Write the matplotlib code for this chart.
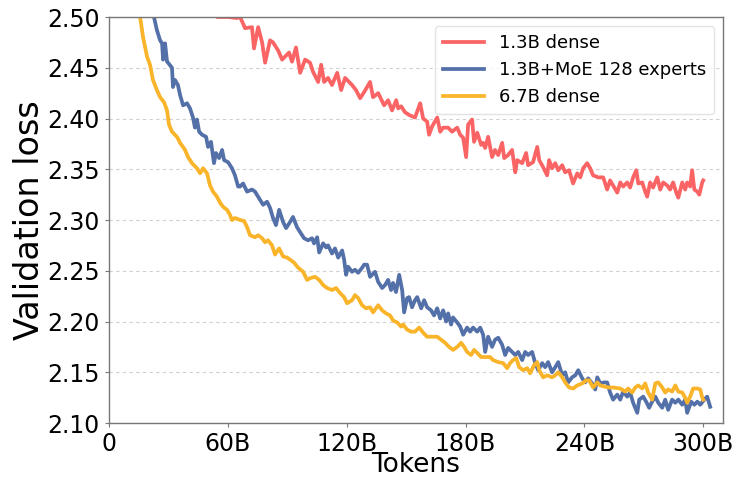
import matplotlib
matplotlib.use("Agg")
import matplotlib.pyplot as plt

# ---- data (tokens in billions, validation loss) ----
red_x = [55.1, 60.1, 64.6, 66.2, 68.7, 72.2, 73.2, 75.3, 77.3, 78.8, 81.3, 82.8, 85.4, 87.4, 88.9,
         90.9, 92.4, 94.4, 96.5, 99.0, 101.5, 103.0, 105.6, 107.1, 108.6, 110.6, 112.6, 115.2, 117.2,
         119.2, 121.2, 122.7, 124.7, 126.8, 128.8, 131.8, 133.3, 135.9, 138.9, 140.9, 142.9, 145.0,
         146.0, 147.5, 149.5, 152.0, 154.5, 157.1, 158.6, 160.6, 161.6, 163.1, 165.7, 167.2, 168.7,
         171.2, 173.2, 175.8, 177.3, 178.8, 180.3, 181.3, 183.3, 184.3, 185.9, 187.9, 188.9, 189.9,
         191.4, 193.4, 194.9, 196.5, 198.5, 199.5, 201.5, 203.5, 205.1, 206.1, 208.6, 210.6, 211.6,
         214.1, 216.2, 217.2, 219.2, 221.2, 222.2, 223.7, 225.3, 226.8, 228.8, 230.3, 232.3, 234.3,
         236.4, 237.9, 239.4, 241.4, 242.9, 244.4, 247.0, 249.5, 251.5, 253.0, 254.5, 256.6, 258.1,
         259.6, 261.6, 263.1, 264.6, 266.2, 267.2, 269.2, 270.7, 271.7, 273.2, 274.7, 276.8, 278.3,
         279.8, 281.8, 283.3, 284.8, 286.4, 287.4, 289.4, 290.9, 291.9, 293.4, 294.4, 295.5, 297.0,
         298.0, 299.5, 300.0]
red_y = [2.500, 2.500, 2.499, 2.500, 2.489, 2.490, 2.469, 2.490, 2.475, 2.455, 2.477, 2.475, 2.467,
         2.458, 2.461, 2.465, 2.456, 2.470, 2.445, 2.458, 2.455, 2.446, 2.436, 2.453, 2.436, 2.440,
         2.433, 2.445, 2.428, 2.440, 2.436, 2.433, 2.428, 2.420, 2.426, 2.436, 2.421, 2.425, 2.413,
         2.418, 2.408, 2.418, 2.410, 2.412, 2.406, 2.403, 2.401, 2.415, 2.400, 2.397, 2.384, 2.392,
         2.401, 2.387, 2.391, 2.391, 2.387, 2.391, 2.384, 2.381, 2.362, 2.394, 2.399, 2.377, 2.386,
         2.374, 2.376, 2.371, 2.382, 2.362, 2.369, 2.364, 2.376, 2.361, 2.364, 2.369, 2.347, 2.359,
         2.356, 2.366, 2.354, 2.357, 2.372, 2.359, 2.352, 2.344, 2.359, 2.351, 2.356, 2.349, 2.354,
         2.347, 2.349, 2.336, 2.346, 2.342, 2.351, 2.356, 2.351, 2.344, 2.342, 2.342, 2.330, 2.339,
         2.334, 2.327, 2.337, 2.333, 2.337, 2.332, 2.342, 2.349, 2.336, 2.337, 2.328, 2.323, 2.337,
         2.332, 2.342, 2.330, 2.337, 2.334, 2.330, 2.337, 2.327, 2.322, 2.337, 2.330, 2.337, 2.333,
         2.349, 2.330, 2.328, 2.325, 2.337, 2.339]

blue_x = [22.7, 24.2, 25.8, 26.8, 27.3, 28.3, 29.3, 29.8, 31.8, 32.3, 33.3, 34.8, 35.9, 37.4, 39.4,
          40.9, 42.4, 43.4, 44.4, 45.5, 47.0, 49.0, 50.0, 51.5, 53.0, 54.0, 55.6, 57.1, 58.1, 60.1,
          62.1, 63.6, 65.2, 66.2, 67.7, 69.7, 72.2, 73.7, 75.3, 77.8, 79.8, 81.3, 82.8, 84.3, 85.9,
          87.9, 89.4, 91.4, 92.9, 94.9, 96.5, 98.5, 100.5, 102.5, 103.5, 105.1, 106.1, 108.1, 109.6,
          110.6, 112.6, 114.1, 115.7, 117.7, 118.7, 119.7, 120.7, 122.7, 124.2, 125.8, 127.8, 128.8,
          130.3, 131.8, 134.3, 135.9, 137.9, 139.4, 140.9, 142.4, 143.4, 144.9, 146.5, 148.0, 149.0,
          150.5, 151.5, 153.0, 154.5, 155.6, 157.6, 159.1, 160.6, 162.6, 164.1, 165.7, 167.2, 168.7,
          170.2, 171.2, 172.7, 173.7, 175.8, 177.3, 178.8, 180.8, 182.3, 183.8, 185.9, 187.4, 188.9,
          189.9, 191.4, 193.4, 194.9, 196.5, 198.5, 200.0, 201.5, 203.5, 205.1, 206.6, 208.6, 210.1,
          211.6, 213.6, 215.2, 216.7, 218.7, 220.2, 221.7, 223.7, 225.3, 226.8, 228.8, 230.3, 231.8,
          233.8, 235.4, 236.9, 238.9, 240.4, 241.9, 243.9, 245.5, 246.5, 248.0, 250.0, 251.5, 253.0,
          254.5, 256.6, 258.1, 259.6, 261.6, 263.1, 264.6, 266.7, 267.7, 269.7, 271.2, 272.7, 274.2,
          275.8, 277.3, 279.3, 280.8, 282.3, 284.3, 285.9, 287.4, 289.4, 290.9, 291.9, 293.9, 295.5,
          297.0, 298.5, 300.5, 302.0, 303.5]
blue_y = [2.500, 2.487, 2.477, 2.474, 2.458, 2.474, 2.456, 2.455, 2.450, 2.431, 2.438, 2.433, 2.423,
          2.413, 2.415, 2.410, 2.401, 2.391, 2.399, 2.387, 2.384, 2.382, 2.372, 2.377, 2.356, 2.366,
          2.361, 2.369, 2.359, 2.357, 2.351, 2.344, 2.333, 2.333, 2.336, 2.328, 2.330, 2.328, 2.323,
          2.315, 2.318, 2.312, 2.302, 2.295, 2.310, 2.298, 2.292, 2.298, 2.303, 2.293, 2.288, 2.282,
          2.280, 2.282, 2.277, 2.283, 2.268, 2.277, 2.273, 2.275, 2.267, 2.272, 2.263, 2.270, 2.261,
          2.246, 2.254, 2.249, 2.251, 2.248, 2.253, 2.256, 2.256, 2.244, 2.249, 2.239, 2.233, 2.236,
          2.241, 2.231, 2.238, 2.229, 2.246, 2.231, 2.209, 2.223, 2.224, 2.214, 2.221, 2.224, 2.213,
          2.221, 2.214, 2.211, 2.206, 2.213, 2.203, 2.211, 2.200, 2.208, 2.197, 2.204, 2.199, 2.195,
          2.187, 2.194, 2.190, 2.194, 2.190, 2.194, 2.187, 2.170, 2.185, 2.175, 2.182, 2.184, 2.177,
          2.167, 2.174, 2.170, 2.167, 2.170, 2.162, 2.170, 2.167, 2.170, 2.159, 2.152, 2.159, 2.155,
          2.160, 2.150, 2.155, 2.160, 2.147, 2.150, 2.140, 2.145, 2.147, 2.152, 2.144, 2.140, 2.144,
          2.139, 2.133, 2.145, 2.139, 2.140, 2.140, 2.130, 2.123, 2.128, 2.123, 2.131, 2.126, 2.130,
          2.120, 2.110, 2.123, 2.126, 2.121, 2.115, 2.121, 2.126, 2.120, 2.115, 2.123, 2.113, 2.123,
          2.120, 2.123, 2.118, 2.123, 2.110, 2.121, 2.118, 2.121, 2.118, 2.123, 2.126, 2.116]

yellow_x = [15.7, 17.2, 19.2, 20.7, 22.2, 24.2, 25.8, 27.8, 29.3, 30.3, 31.8, 34.3, 35.9, 38.4, 39.9,
            41.9, 44.4, 46.0, 47.5, 49.5, 51.0, 52.5, 54.5, 56.1, 57.6, 59.6, 61.1, 62.1, 63.6, 66.2,
            68.2, 69.7, 71.2, 73.7, 75.3, 77.3, 78.8, 80.3, 82.3, 83.8, 85.9, 87.9, 89.9, 91.4, 93.4,
            95.5, 98.0, 100.0, 102.0, 104.0, 106.1, 108.1, 110.1, 112.6, 114.6, 116.7, 118.7, 120.2,
            122.7, 124.2, 125.8, 127.8, 129.8, 131.8, 133.3, 135.9, 137.9, 139.9, 141.9, 143.4, 145.5,
            147.5, 148.5, 150.5, 152.5, 154.5, 156.6, 158.6, 160.6, 163.1, 165.7, 167.7, 169.7, 171.7,
            173.7, 175.8, 177.8, 179.3, 180.8, 182.8, 184.3, 185.9, 187.9, 189.9, 192.4, 193.9, 196.5,
            199.0, 201.0, 202.5, 204.0, 205.6, 207.1, 209.1, 211.1, 212.6, 214.6, 216.2, 217.2, 219.2,
            221.2, 223.7, 225.3, 226.8, 228.8, 230.3, 232.3, 234.3, 236.4, 238.9, 240.9, 242.4, 244.4,
            246.5, 248.0, 250.0, 252.0, 254.5, 258.1, 260.6, 262.1, 264.1, 265.7, 267.2, 269.2, 270.7,
            272.2, 274.2, 275.8, 277.3, 279.3, 280.8, 282.3, 284.3, 285.9, 287.4, 289.4, 290.9, 291.9,
            293.4, 294.9, 297.0, 298.5, 299.5, 300.0]
yellow_y = [2.500, 2.480, 2.461, 2.453, 2.438, 2.428, 2.421, 2.416, 2.408, 2.394, 2.387, 2.382, 2.376,
            2.369, 2.362, 2.356, 2.351, 2.346, 2.351, 2.346, 2.334, 2.328, 2.323, 2.317, 2.313, 2.310,
            2.305, 2.300, 2.302, 2.300, 2.299, 2.293, 2.285, 2.283, 2.285, 2.282, 2.278, 2.280, 2.275,
            2.266, 2.272, 2.264, 2.263, 2.261, 2.258, 2.253, 2.249, 2.241, 2.243, 2.244, 2.241, 2.236,
            2.233, 2.231, 2.233, 2.228, 2.224, 2.218, 2.221, 2.226, 2.223, 2.216, 2.213, 2.214, 2.209,
            2.216, 2.211, 2.208, 2.206, 2.201, 2.199, 2.195, 2.197, 2.192, 2.190, 2.190, 2.194, 2.189,
            2.185, 2.185, 2.185, 2.182, 2.179, 2.175, 2.172, 2.175, 2.179, 2.175, 2.170, 2.167, 2.172,
            2.169, 2.165, 2.165, 2.165, 2.162, 2.160, 2.159, 2.154, 2.159, 2.162, 2.164, 2.155, 2.152,
            2.154, 2.149, 2.157, 2.160, 2.152, 2.145, 2.147, 2.145, 2.147, 2.150, 2.145, 2.140, 2.135,
            2.134, 2.137, 2.139, 2.142, 2.142, 2.135, 2.140, 2.137, 2.136, 2.135, 2.135, 2.134, 2.131,
            2.134, 2.130, 2.135, 2.137, 2.134, 2.139, 2.130, 2.123, 2.139, 2.140, 2.135, 2.130, 2.133,
            2.131, 2.137, 2.131, 2.130, 2.125, 2.120, 2.126, 2.134, 2.134, 2.133, 2.125, 2.123]

labels = ["1.3B dense", "1.3B+MoE 128 experts", "6.7B dense"]
colors = ["#fa6464", "#5470a8", "#f9b42a"]
x_ticks = [0, 60, 120, 180, 240, 300]
x_ticklabels = ["0", "60B", "120B", "180B", "240B", "300B"]
y_ticks = [2.10, 2.15, 2.20, 2.25, 2.30, 2.35, 2.40, 2.45, 2.50]

fig = plt.figure(figsize=(7.33, 4.79), dpi=100)
ax = fig.add_axes([0.1487, 0.1169, 0.8377, 0.8476])

for xs, ys, lab, c in zip([red_x, blue_x, yellow_x], [red_y, blue_y, yellow_y], labels, colors):
    ax.plot(xs, ys, color=c, lw=2.7, label=lab, solid_joinstyle="round")

ax.set_xlim(0, 310)
ax.set_ylim(2.10, 2.50)
ax.set_xticks(x_ticks)
ax.set_xticklabels(x_ticklabels)
ax.set_yticks(y_ticks)
ax.set_yticklabels([f"{v:.2f}" for v in y_ticks])
ax.yaxis.grid(True, linestyle=(0, (3, 3)), color="#cfcfcf", lw=0.8)
ax.set_axisbelow(True)

for s in ax.spines.values():
    s.set_color("#777777")
    s.set_linewidth(1.0)

ax.tick_params(axis="both", labelsize=17, length=3, color="#777777")
ax.set_xlabel("Tokens", fontsize=19, labelpad=-3)
ax.set_ylabel("Validation loss", fontsize=24, labelpad=1)

leg = ax.legend(loc="upper right", fontsize=13, frameon=True, fancybox=True,
                handlelength=2.3, borderpad=0.45, labelspacing=0.5)
leg.get_frame().set_edgecolor("#dddddd")

fig.savefig("out.png", dpi=100)
